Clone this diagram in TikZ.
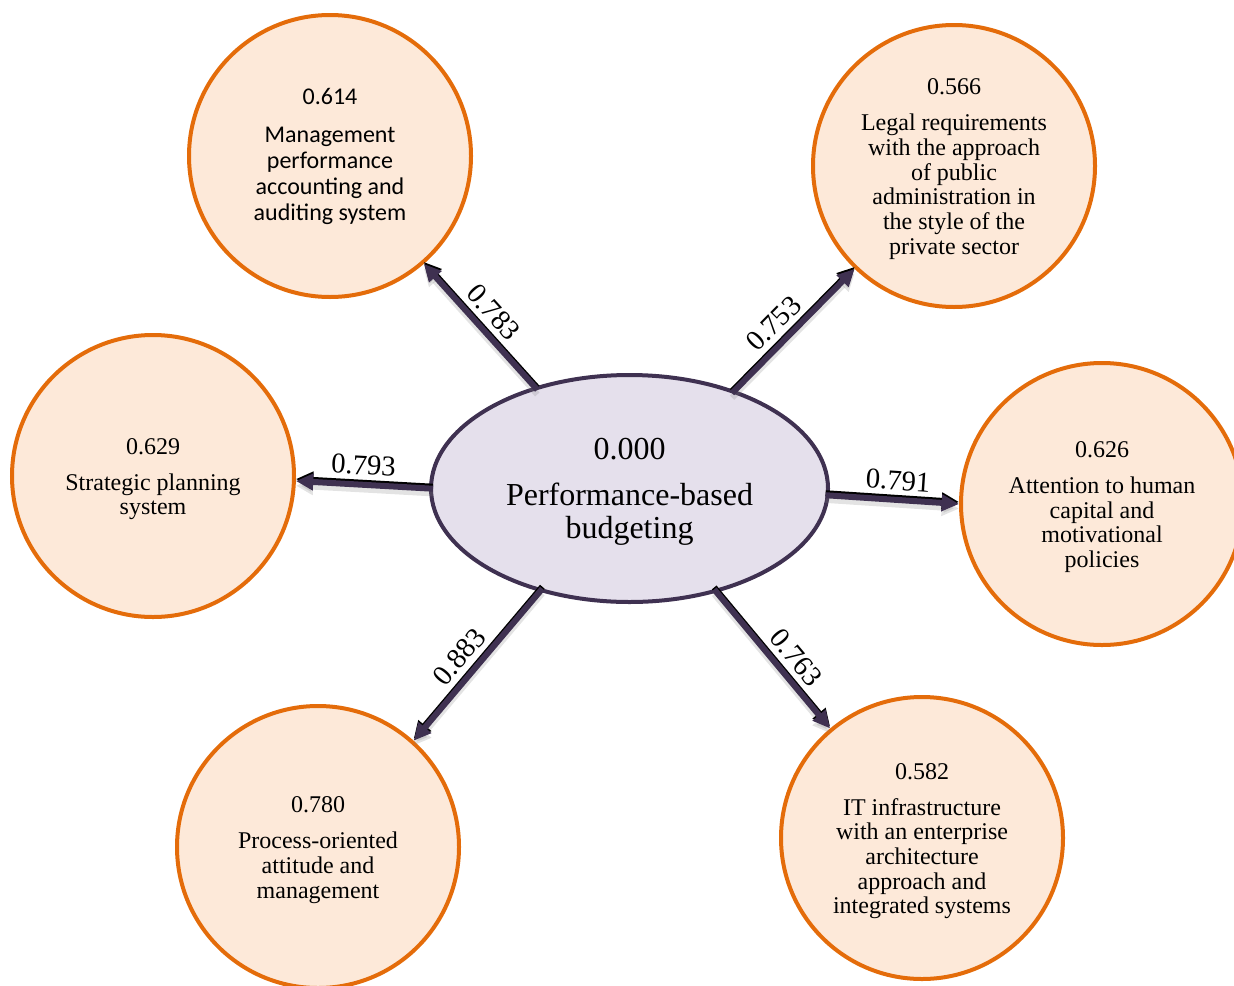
\documentclass[tikz,border=0pt]{standalone}
\usepackage{fontspec}
\setmainfont{Liberation Serif}
\newfontfamily\calib{Carlito}
\usetikzlibrary{arrows.meta,shapes.geometric}
\definecolor{orng}{HTML}{E46C0A}
\definecolor{peach}{HTML}{FDE9D9}
\definecolor{lav}{HTML}{E5E0EC}
\definecolor{purp}{HTML}{3F3151}
\newcommand\toplift{\rule{0pt}{16.7pt}}
\begin{document}
\begin{tikzpicture}[x=0.75pt,y=-0.75pt,
  circ/.style={circle, draw=orng, fill=peach, line width=3pt, minimum size=211.5pt,
    inner sep=0pt, align=center, font=\fontsize{18}{18.5}\selectfont},
  hub/.style={ellipse, draw=purp, fill=lav, line width=3pt, minimum width=297.75pt,
    minimum height=170.25pt, inner sep=0pt, align=center, font=\fontsize{24}{24.75}\selectfont},
  arr/.style={line width=4.5pt, -{Triangle[length=13pt,width=12pt]}, shorten <=-3pt},
  edgeblack/.style={arr, black, transform canvas={yshift=1.5pt}},
  edgeshadow/.style={arr, gray, opacity=0.22, transform canvas={yshift=-3.5pt}},
  edgemain/.style={arr, draw=purp, fill=purp},
  lab/.style={sloped, above, font=\fontsize{21.5}{22}\selectfont, inner sep=5pt, text=black},
]
\useasboundingbox (0,0) rectangle (1234,985);

\node[circ, font=\calib\fontsize{18}{19.5}\selectfont] (TL) at (330,156)
  {0.614\\[9pt]Management\\performance\\accounting and\\auditing system};
\node[circ] (TR) at (954,166)
  {\toplift0.566\\[8.5pt]Legal requirements\\with the approach\\of public\\administration in\\the style of the\\private sector};
\node[circ] (L) at (153,476) {\toplift0.629\\[8.5pt]Strategic planning\\system};
\node[circ] (R) at (1102,504) {\toplift0.626\\[8.5pt]Attention to human\\capital and\\motivational\\policies};
\node[circ] (BL) at (318,847) {\toplift0.780\\[8.5pt]Process-oriented\\attitude and\\management};
\node[circ] (BR) at (922,838)
  {\toplift0.582\\[8.5pt]IT infrastructure\\with an enterprise\\architecture\\approach and\\integrated systems};

\node[hub] (hub) at (629.5,488.5) {\rule{0pt}{20.7pt}0.000\\[10pt]Performance-based\\budgeting};

% shadows
\draw[edgeshadow] (hub.133) -- (TL.-49);
\draw[edgeshadow] (hub.43) -- (TR.226);
\draw[edgeshadow] (hub.180) -- (L.-2);
\draw[edgeshadow] (hub.-2.4) -- (R.180);
\draw[edgeshadow] (hub.229) -- (BL.48.5);
\draw[edgeshadow] (hub.-50.6) -- (BR.130);
% black edges
\draw[edgeblack] (hub.133) -- (TL.-49);
\draw[edgeblack] (hub.43) -- (TR.226);
\draw[edgeblack] (hub.180) -- (L.-2);
\draw[edgeblack] (hub.-2.4) -- (R.180);
\draw[edgeblack] (hub.229) -- (BL.48.5);
\draw[edgeblack] (hub.-50.6) -- (BR.130);
% main arrows
\draw[edgemain] (hub.133) -- (TL.-49) node[lab, pos=0.5] {0.783};
\draw[edgemain] (hub.43) -- (TR.226) node[lab, pos=0.44] {0.753};
\draw[edgemain] (hub.180) -- (L.-2) node[lab, pos=0.5] {0.793};
\draw[edgemain] (hub.-2.4) -- (R.180) node[lab, pos=0.52] {0.791};
\draw[edgemain] (hub.229) -- (BL.48.5) node[lab, pos=0.52] {0.883};
\draw[edgemain] (hub.-50.6) -- (BR.130) node[lab, pos=0.57] {0.763};
\end{tikzpicture}
\end{document}
